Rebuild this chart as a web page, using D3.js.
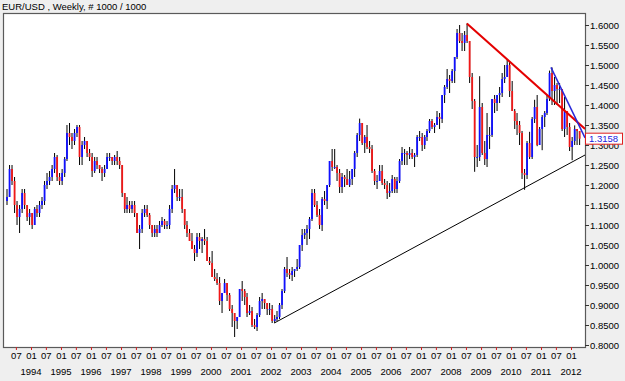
<!DOCTYPE html>
<html lang="en">
<head>
<meta charset="utf-8">
<title>EUR/USD Weekly</title>
<script src="https://cdn.jsdelivr.net/npm/d3@7"></script>
<style>
  body { margin: 0; background: #efefef; }
  svg { display: block; font-family: "Liberation Sans", Arial, sans-serif; }
</style>
</head>
<body>
<svg id="chart" width="625" height="381"></svg>
<script>
// monthly bars (Mar 1993 .. Apr 2012)
const firstMonth = "1993-03";
const firstOpen = 1.16;

const high = [
  1.19,1.25,1.25,1.22,1.16,1.15,1.19,1.19,1.15,1.14,                 // 1993
  1.13,1.145,1.15,1.16,1.17,1.21,1.23,1.235,1.25,1.28,1.275,1.23,    // 1994
  1.24,1.27,1.35,1.355,1.33,1.34,1.35,1.35,1.31,1.32,1.31,1.29,      // 1995
  1.28,1.27,1.27,1.25,1.245,1.25,1.28,1.28,1.27,1.275,1.285,1.27,    // 1996
  1.25,1.18,1.17,1.16,1.16,1.16,1.13,1.10,1.14,1.15,1.15,1.13,       // 1997
  1.10,1.10,1.10,1.11,1.12,1.115,1.11,1.15,1.20,1.24,1.20,1.19,      // 1998
  1.19,1.14,1.11,1.09,1.08,1.05,1.08,1.08,1.07,1.09,1.07,1.02,       // 1999
  1.035,0.99,0.98,0.97,0.93,0.965,0.955,0.93,0.90,0.88,0.87,0.94,    // 2000
  0.96,0.94,0.93,0.90,0.895,0.865,0.88,0.92,0.93,0.915,0.905,0.905,  // 2001
  0.90,0.875,0.885,0.905,0.94,0.995,1.02,0.99,0.995,0.99,1.015,1.05, // 2002
  1.09,1.09,1.10,1.12,1.19,1.19,1.16,1.14,1.17,1.185,1.20,1.26,      // 2003
  1.29,1.29,1.25,1.24,1.23,1.225,1.24,1.235,1.24,1.285,1.33,1.366,   // 2004
  1.355,1.325,1.35,1.31,1.30,1.24,1.225,1.25,1.25,1.215,1.21,1.205,  // 2005
  1.225,1.22,1.22,1.265,1.295,1.29,1.285,1.295,1.29,1.28,1.325,1.335,// 2006
  1.33,1.325,1.34,1.365,1.365,1.355,1.385,1.38,1.425,1.45,1.49,1.475,// 2007
  1.49,1.52,1.59,1.60,1.58,1.585,1.604,1.56,1.48,1.415,1.30,1.472,   // 2008
  1.405,1.31,1.38,1.345,1.415,1.425,1.425,1.445,1.48,1.50,1.514,1.51,// 2009
  1.46,1.39,1.38,1.36,1.335,1.24,1.31,1.333,1.37,1.413,1.425,1.345,  // 2010
  1.375,1.385,1.425,1.486,1.494,1.47,1.455,1.455,1.44,1.42,1.385,1.355, // 2011
  1.32,1.349,1.338,1.335                                              // 2012
];

const low = [
  1.15,1.17,1.20,1.13,1.10,1.08,1.13,1.14,1.11,1.10,                 // 1993
  1.09,1.10,1.12,1.12,1.14,1.15,1.19,1.20,1.21,1.23,1.21,1.20,       // 1994
  1.20,1.22,1.26,1.30,1.29,1.30,1.32,1.25,1.25,1.29,1.27,1.26,       // 1995
  1.22,1.23,1.24,1.23,1.21,1.22,1.24,1.26,1.25,1.25,1.25,1.24,       // 1996
  1.17,1.13,1.13,1.13,1.13,1.12,1.08,1.04,1.08,1.12,1.12,1.09,       // 1997
  1.07,1.07,1.07,1.08,1.095,1.09,1.09,1.09,1.13,1.18,1.16,1.16,      // 1998
  1.13,1.09,1.07,1.06,1.04,1.01,1.02,1.04,1.03,1.05,1.01,1.00,       // 1999
  0.97,0.96,0.95,0.90,0.88,0.93,0.91,0.885,0.845,0.82,0.84,0.87,     // 2000
  0.91,0.90,0.87,0.875,0.845,0.84,0.835,0.87,0.89,0.89,0.875,0.875,  // 2001
  0.855,0.855,0.86,0.865,0.89,0.93,0.97,0.965,0.96,0.97,0.985,0.99,  // 2002
  1.035,1.065,1.05,1.065,1.11,1.145,1.12,1.09,1.085,1.15,1.14,1.195, // 2003
  1.235,1.24,1.21,1.18,1.18,1.195,1.20,1.195,1.20,1.22,1.27,1.31,    // 2004
  1.30,1.28,1.29,1.28,1.23,1.20,1.19,1.21,1.20,1.19,1.165,1.17,      // 2005
  1.18,1.18,1.18,1.205,1.25,1.25,1.25,1.265,1.265,1.245,1.27,1.31,   // 2006
  1.285,1.29,1.31,1.33,1.34,1.33,1.35,1.34,1.355,1.405,1.44,1.43,    // 2007
  1.455,1.455,1.515,1.555,1.535,1.535,1.555,1.455,1.39,1.233,1.245,1.26, // 2008
  1.275,1.25,1.245,1.29,1.32,1.38,1.385,1.405,1.42,1.455,1.47,1.42,  // 2009
  1.385,1.34,1.325,1.30,1.215,1.188,1.215,1.265,1.265,1.355,1.297,1.30, // 2010
  1.287,1.345,1.375,1.41,1.40,1.40,1.40,1.405,1.335,1.32,1.325,1.285,// 2011
  1.262,1.30,1.30,1.30                                                // 2012
];

const close = [
  1.17,1.24,1.21,1.15,1.12,1.14,1.18,1.15,1.12,1.13,                 // 1993
  1.10,1.14,1.13,1.15,1.16,1.20,1.21,1.22,1.24,1.27,1.22,1.21,       // 1994
  1.23,1.265,1.33,1.32,1.31,1.33,1.345,1.27,1.30,1.31,1.28,1.27,     // 1995
  1.235,1.26,1.25,1.24,1.23,1.24,1.27,1.27,1.26,1.27,1.26,1.25,      // 1996
  1.18,1.14,1.15,1.14,1.15,1.13,1.08,1.09,1.13,1.14,1.125,1.10,      // 1997
  1.08,1.09,1.08,1.10,1.11,1.10,1.10,1.14,1.19,1.20,1.17,1.17,       // 1998
  1.14,1.10,1.08,1.06,1.04,1.03,1.07,1.06,1.065,1.06,1.01,1.005,     // 1999
  0.97,0.965,0.955,0.91,0.93,0.955,0.925,0.89,0.88,0.86,0.87,0.94,   // 2000
  0.935,0.92,0.88,0.885,0.85,0.845,0.875,0.91,0.915,0.905,0.89,0.89, // 2001
  0.86,0.865,0.87,0.90,0.935,0.99,0.98,0.975,0.985,0.99,0.995,1.05,  // 2002
  1.075,1.08,1.09,1.115,1.18,1.15,1.125,1.10,1.165,1.16,1.20,1.26,   // 2003
  1.245,1.245,1.23,1.195,1.22,1.215,1.20,1.215,1.24,1.28,1.325,1.355,// 2004
  1.305,1.32,1.295,1.29,1.235,1.21,1.21,1.235,1.205,1.20,1.18,1.185, // 2005
  1.215,1.19,1.21,1.26,1.28,1.28,1.275,1.28,1.27,1.275,1.32,1.32,    // 2006
  1.30,1.32,1.335,1.36,1.345,1.35,1.37,1.365,1.425,1.445,1.465,1.46, // 2007
  1.485,1.52,1.58,1.56,1.555,1.575,1.56,1.47,1.41,1.27,1.27,1.395,   // 2008
  1.28,1.265,1.325,1.325,1.415,1.405,1.425,1.43,1.465,1.47,1.50,1.435, // 2009
  1.385,1.36,1.35,1.33,1.23,1.225,1.305,1.27,1.365,1.395,1.30,1.34,  // 2010
  1.37,1.38,1.415,1.48,1.435,1.45,1.44,1.44,1.34,1.385,1.345,1.295,  // 2011
  1.31,1.34,1.335,1.3158                                              // 2012
];

const lastPrice = 1.3158;

const yTicks = [0.80,0.85,0.90,0.95,1.00,1.05,1.10,1.15,1.20,1.25,1.30,1.35,1.40,1.45,1.50,1.55,1.60];
const years = [1994,1995,1996,1997,1998,1999,2000,2001,2002,2003,2004,2005,2006,2007,2008,2009,2010,2011,2012];

// hand-drawn trendlines: [start date, price, end date, price]
const trendNames = ["support", "topLine", "recentTop"];
const trendPoints = [
  ["2002-02-10", 0.855, "2012-06-20", 1.275],
  ["2008-07-12", 1.604, "2012-06-20", 1.340],
  ["2011-05-02", 1.494, "2012-06-20", 1.318]
];
const trendStyle = {
  support:   { color: "#000000", width: 1 },
  topLine:   { color: "#e40000", width: 2 },
  recentTop: { color: "#2828d8", width: 1.5 }
};

const svg = d3.select("#chart");
const plotLeft = 3, plotRight = 585, plotTop = 13, plotBottom = 347;

const parseM = d3.timeParse("%Y-%m");
const parseD = d3.timeParse("%Y-%m-%d");

const x = d3.scaleTime()
  .domain([new Date(1994, 0, 1), new Date(2012, 0, 1)])
  .range([31, 571]);
const y = d3.scaleLinear().domain([0.8, 1.6]).range([345, 25]);

// build bars
const start = parseM(firstMonth);
const bars = close.map(function(c, i) {
  const d = d3.timeMonth.offset(start, i);
  return {
    date: new Date(d.getFullYear(), d.getMonth(), 15),
    open: i === 0 ? firstOpen : close[i - 1],
    high: high[i], low: low[i], close: c
  };
});

// title
svg.append("text")
  .attr("x", 2).attr("y", 10)
  .attr("font-size", "9.5px").attr("fill", "#000")
  .text("EUR/USD , Weekly, # 1000 / 1000");

// plot area
svg.append("rect")
  .attr("x", plotLeft + 0.5).attr("y", plotTop + 0.5)
  .attr("width", plotRight - plotLeft).attr("height", plotBottom - plotTop)
  .attr("fill", "#fff").attr("stroke", "#5a5a5a").attr("stroke-width", 1.2);

svg.append("clipPath").attr("id", "plotclip")
  .append("rect").attr("x", plotLeft + 1).attr("y", plotTop + 1)
  .attr("width", plotRight - plotLeft - 1).attr("height", plotBottom - plotTop - 1);

const plot = svg.append("g").attr("clip-path", "url(#plotclip)");

// wicks
plot.selectAll("line.wick").data(bars).enter().append("line")
  .attr("class", "wick")
  .attr("x1", d => x(d.date)).attr("x2", d => x(d.date))
  .attr("y1", d => y(Math.max(d.high, d.open, d.close)))
  .attr("y2", d => y(Math.min(d.low, d.open, d.close)))
  .attr("stroke", "#000").attr("stroke-width", 1);

// bodies
plot.selectAll("rect.body").data(bars).enter().append("rect")
  .attr("class", "body")
  .attr("x", d => x(d.date) - 0.9)
  .attr("width", 1.8)
  .attr("y", d => y(Math.max(d.open, d.close)))
  .attr("height", d => Math.max(1, Math.abs(y(d.open) - y(d.close))))
  .attr("fill", d => d.close >= d.open ? "#1010ff" : "#f01818");

// trendlines
plot.selectAll("line.trend").data(trendPoints).enter().append("line")
  .attr("class", "trend")
  .attr("x1", d => x(parseD(d[0]))).attr("y1", d => y(d[1]))
  .attr("x2", d => x(parseD(d[2]))).attr("y2", d => y(d[3]))
  .attr("stroke", (d, i) => trendStyle[trendNames[i]].color)
  .attr("stroke-width", (d, i) => trendStyle[trendNames[i]].width);

// right price axis
const yAxis = svg.append("g")
  .attr("transform", "translate(" + plotRight + ",0)")
  .call(d3.axisRight(y).tickValues(yTicks).tickFormat(d3.format(".4f"))
    .tickSize(4).tickPadding(1));
yAxis.select(".domain").remove();
yAxis.selectAll(".tick line").attr("stroke", "#333");
yAxis.selectAll(".tick text")
  .attr("font-size", "9.5px").attr("font-family", "Liberation Sans, Arial, sans-serif")
  .attr("fill", "#000");

// last price marker
svg.append("rect")
  .attr("x", plotRight + 0.5).attr("y", y(lastPrice) - 5.5)
  .attr("width", 37).attr("height", 11)
  .attr("fill", "#fff").attr("stroke", "#e02020").attr("stroke-width", 1);
svg.append("text")
  .attr("x", plotRight + 4).attr("y", y(lastPrice) + 3.5)
  .attr("font-size", "9.5px").attr("fill", "#1a1adf")
  .text(lastPrice.toFixed(4));

// bottom time axis
const tickDates = [];
years.forEach(function(yr) {
  tickDates.push(new Date(yr - 1, 6, 1));
  tickDates.push(new Date(yr, 0, 1));
});
const xAxis = svg.append("g")
  .attr("transform", "translate(0," + plotBottom + ")")
  .call(d3.axisBottom(x).tickValues(tickDates)
    .tickFormat(d3.timeFormat("%m")).tickSize(3).tickPadding(2));
xAxis.select(".domain").remove();
xAxis.selectAll(".tick line").attr("stroke", "#d02020");
xAxis.selectAll(".tick text")
  .attr("font-size", "9.5px").attr("font-family", "Liberation Sans, Arial, sans-serif")
  .attr("fill", "#000");

svg.append("g").selectAll("text").data(years).enter().append("text")
  .attr("x", d => x(new Date(d, 0, 1)))
  .attr("y", 375)
  .attr("text-anchor", "middle")
  .attr("font-size", "9.5px").attr("fill", "#000")
  .text(d => d);
</script>
</body>
</html>
